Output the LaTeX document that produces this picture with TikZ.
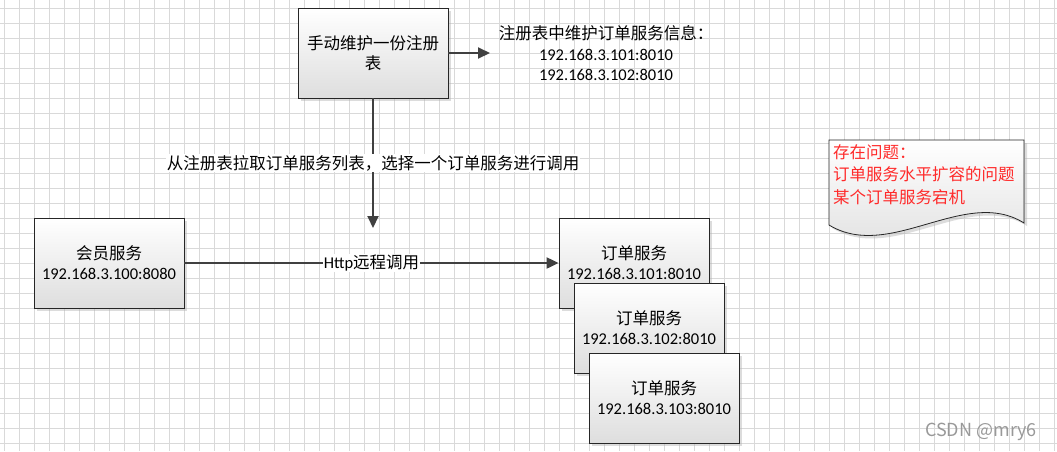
\documentclass[tikz,border=0pt]{standalone}
\usepackage{fontspec}
\setmainfont{Carlito}
\newfontfamily\cjk{Noto Sans CJK SC}
\usetikzlibrary{arrows.meta,shadows}
\definecolor{gridc}{HTML}{D9D9D9}
\definecolor{linec}{HTML}{404040}
\definecolor{notered}{HTML}{FF2A2A}
\newcommand\myfs{\fontsize{16.5}{20}\selectfont}
\begin{document}
\begin{tikzpicture}[x=1pt,y=-1pt,
  shade/.style={top color=white, bottom color=black!13,
    drop shadow={shadow xshift=3pt, shadow yshift=-3pt, fill=black!30, opacity=0.45}},
  box/.style={shade, draw=black!85, line width=0.8pt, minimum width=150pt,
    minimum height=90pt, align=center, font=\myfs, inner sep=0pt},
  arr/.style={draw=linec, line width=2pt, -{Triangle[length=12pt,width=11pt]}},
  lbl/.style={fill=white, inner sep=1pt, font=\myfs}
]
\useasboundingbox (0,0) rectangle (1057,451);
\fill[white] (0,0) rectangle (1057,451);
% grid
\foreach \x in {4,19,...,1054} \draw[gridc, line width=0.8pt] (\x,0) -- (\x,451);
\foreach \y in {8,23,...,450} \draw[gridc, line width=0.8pt] (0,\y) -- (1057,\y);

% registry box
\node[box, font=\myfs\cjk] (reg) at (373,53) {手动维护一份注册\\表};
\node[align=center, font=\fontsize{16.5}{20.5}\selectfont] (info) at (606,53.5)
  {{\cjk 注册表中维护订单服务信息：}\\192.168.3.101:8010\\192.168.3.102:8010};
\coordinate (regtip) at (490,53);
\draw[arr] (reg.east) -- (regtip);

% member service
\node[box] (member) at (109,263) {{\cjk 会员服务}\\192.168.3.100:8080};

% order services
\node[box] (o1) at (634,263) {{\cjk 订单服务}\\192.168.3.101:8010};
\node[box] (o2) at (649,328) {{\cjk 订单服务}\\192.168.3.102:8010};
\node[box] (o3) at (664,398) {{\cjk 订单服务}\\192.168.3.103:8010};

% arrows
\coordinate (pulltip) at (373,228);
\draw[arr] (reg.south) -- node[lbl, font=\myfs\cjk] (pulllbl) {从注册表拉取订单服务列表，选择一个订单服务进行调用} (pulltip);
\draw[arr] (member.east) -- node[lbl] (httplbl) {Http{\cjk 远程调用}} (o1.west);

% note
\path[shade, draw=black!85, line width=0.8pt]
  (829,140) -- (1024,140) -- (1024,223)
  .. controls (965,186) and (890,262) .. (829,225) -- cycle;
\node[anchor=north west, inner sep=0pt, align=left, text=notered,
  font=\fontsize{16.5}{22.5}\selectfont\cjk] (note) at (833,144)
  {存在问题：\\订单服务水平扩容的问题\\某个订单服务宕机};

% watermark
\node[text=black!40, font=\fontsize{18}{20}\selectfont\cjk] (wm) at (981,432) {CSDN @mry6};
\end{tikzpicture}
\end{document}
